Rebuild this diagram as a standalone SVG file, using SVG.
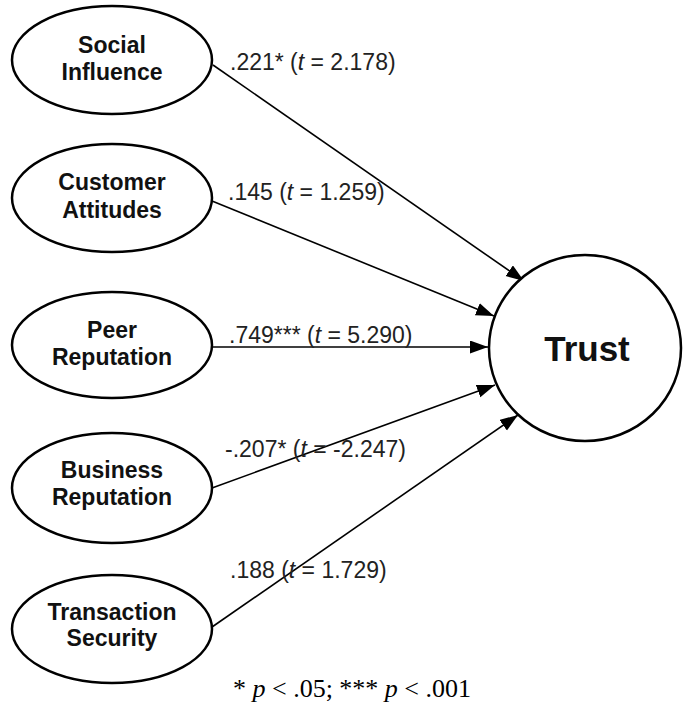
<svg xmlns="http://www.w3.org/2000/svg" width="683" height="715" viewBox="0 0 683 715">
<style>
.node{fill:#fff;stroke:#000;stroke-width:2.5}
.nl{font-family:"Liberation Sans",Arial,sans-serif;font-weight:bold;font-size:23px;text-anchor:middle;fill:#111}
.el{font-family:"Liberation Sans",Arial,sans-serif;font-size:23px;fill:#222}
.edge{stroke:#000;stroke-width:1.6;fill:none;marker-end:url(#ah)}
.note{font-family:"Liberation Serif","Times New Roman",serif;font-size:26px;text-anchor:middle;fill:#000}
</style>
<defs>
<marker id="ah" markerUnits="userSpaceOnUse" markerWidth="20" markerHeight="14" refX="18" refY="6.5" orient="auto">
<path d="M0,0 L18,6.5 L0,13 z" fill="#000"/>
</marker>
</defs>
<rect width="683" height="715" fill="#fff"/>
<g id="connectors">
<line class="edge" x1="213" y1="65" x2="524" y2="281"/>
<line class="edge" x1="212" y1="201" x2="494" y2="316"/>
<line class="edge" x1="212" y1="347" x2="488" y2="347"/>
<line class="edge" x1="212" y1="488" x2="495" y2="385"/>
<line class="edge" x1="212" y1="627" x2="518" y2="415"/>
</g>
<g id="edge-labels">
<text class="el" x="230" y="70">.221* (<tspan font-style="italic">t</tspan> = 2.178)</text>
<text class="el" x="228" y="200">.145 (<tspan font-style="italic">t</tspan> = 1.259)</text>
<text class="el" x="229" y="343">.749*** (<tspan font-style="italic">t</tspan> = 5.290)</text>
<text class="el" x="225" y="457">-.207* (<tspan font-style="italic">t</tspan> = -2.247)</text>
<text class="el" x="230" y="578">.188 (<tspan font-style="italic">t</tspan> = 1.729)</text>
</g>
<g id="social-influence">
<ellipse class="node" cx="112" cy="60" rx="100" ry="54"/>
<text class="nl" x="112" y="53">Social</text>
<text class="nl" x="112" y="80">Influence</text>
</g>
<g id="customer-attitudes">
<ellipse class="node" cx="112" cy="198" rx="100" ry="54"/>
<text class="nl" x="112" y="190">Customer</text>
<text class="nl" x="112" y="218">Attitudes</text>
</g>
<g id="peer-reputation">
<ellipse class="node" cx="112" cy="345" rx="100" ry="53"/>
<text class="nl" x="112" y="338">Peer</text>
<text class="nl" x="112" y="365">Reputation</text>
</g>
<g id="business-reputation">
<ellipse class="node" cx="112" cy="488" rx="100" ry="55"/>
<text class="nl" x="112" y="478">Business</text>
<text class="nl" x="112" y="505">Reputation</text>
</g>
<g id="transaction-security">
<ellipse class="node" cx="112" cy="629" rx="100" ry="54"/>
<text class="nl" x="112" y="620">Transaction</text>
<text class="nl" x="112" y="646">Security</text>
</g>
<g id="trust">
<ellipse class="node" cx="585" cy="348" rx="96" ry="93"/>
<text class="nl" x="587" y="361" style="font-size:35px">Trust</text>
</g>
<text class="note" x="352" y="697">* <tspan font-style="italic">p</tspan> &lt; .05; *** <tspan font-style="italic">p</tspan> &lt; .001</text>
</svg>
